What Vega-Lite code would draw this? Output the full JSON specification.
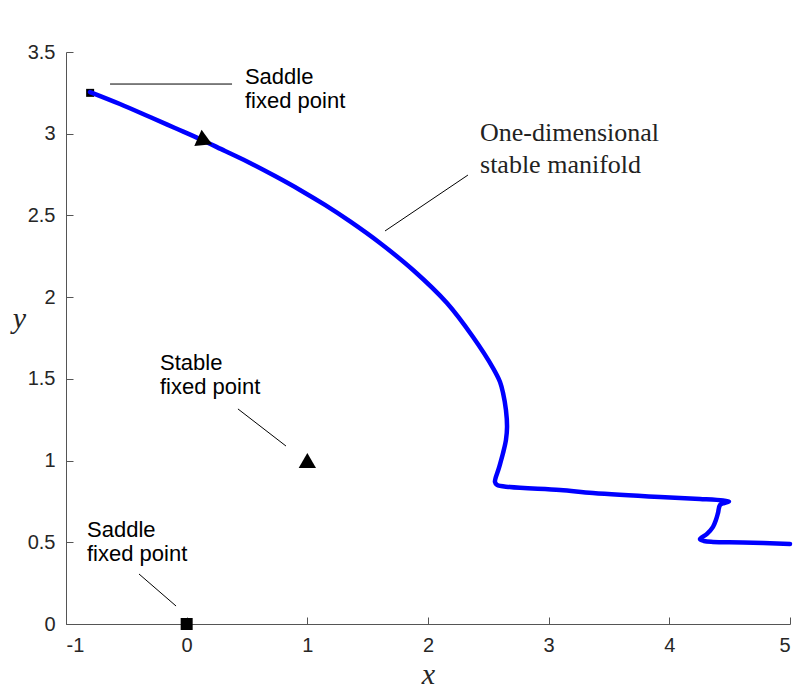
{
  "$schema": "https://vega.github.io/schema/vega-lite/v6.json",
  "width": 724,
  "height": 572,
  "autosize": {"type": "none"},
  "padding": {"left": 66, "top": 52, "right": 20, "bottom": 68},
  "background": "white",
  "config": {
    "view": {"stroke": null},
    "axis": {
      "grid": false,
      "domainColor": "#555555",
      "domainWidth": 1,
      "tickColor": "#555555",
      "tickWidth": 1,
      "tickSize": -7,
      "labelColor": "#262626",
      "labelFont": "Liberation Sans",
      "labelFontSize": 20,
      "titleFont": "Liberation Serif",
      "titleFontStyle": "italic",
      "titleFontWeight": "normal",
      "titleFontSize": 30,
      "titleColor": "#262626"
    }
  },
  "datasets": {
    "curve": [
      {"i": 1, "x": -0.801, "y": 3.255},
      {"i": 2, "x": -0.553, "y": 3.182},
      {"i": 3, "x": -0.304, "y": 3.102},
      {"i": 4, "x": -0.097, "y": 3.035},
      {"i": 5, "x": 0.110, "y": 2.968},
      {"i": 6, "x": 0.318, "y": 2.894},
      {"i": 7, "x": 0.525, "y": 2.821},
      {"i": 8, "x": 0.732, "y": 2.741},
      {"i": 9, "x": 0.939, "y": 2.656},
      {"i": 10, "x": 1.146, "y": 2.564},
      {"i": 11, "x": 1.354, "y": 2.463},
      {"i": 12, "x": 1.602, "y": 2.331},
      {"i": 13, "x": 1.876, "y": 2.166},
      {"i": 14, "x": 2.157, "y": 1.964},
      {"i": 15, "x": 2.373, "y": 1.756},
      {"i": 16, "x": 2.539, "y": 1.566},
      {"i": 17, "x": 2.597, "y": 1.481},
      {"i": 18, "x": 2.622, "y": 1.413},
      {"i": 19, "x": 2.646, "y": 1.309},
      {"i": 20, "x": 2.655, "y": 1.205},
      {"i": 21, "x": 2.646, "y": 1.126},
      {"i": 22, "x": 2.622, "y": 1.046},
      {"i": 23, "x": 2.588, "y": 0.955},
      {"i": 24, "x": 2.555, "y": 0.869},
      {"i": 25, "x": 2.572, "y": 0.851},
      {"i": 26, "x": 2.679, "y": 0.838},
      {"i": 27, "x": 3.094, "y": 0.820},
      {"i": 28, "x": 3.367, "y": 0.802},
      {"i": 29, "x": 3.923, "y": 0.777},
      {"i": 30, "x": 4.254, "y": 0.765},
      {"i": 31, "x": 4.445, "y": 0.756},
      {"i": 32, "x": 4.494, "y": 0.750},
      {"i": 33, "x": 4.453, "y": 0.740},
      {"i": 34, "x": 4.420, "y": 0.728},
      {"i": 35, "x": 4.403, "y": 0.679},
      {"i": 36, "x": 4.386, "y": 0.636},
      {"i": 37, "x": 4.362, "y": 0.594},
      {"i": 38, "x": 4.312, "y": 0.551},
      {"i": 39, "x": 4.254, "y": 0.520},
      {"i": 40, "x": 4.287, "y": 0.508},
      {"i": 41, "x": 4.362, "y": 0.502},
      {"i": 42, "x": 4.610, "y": 0.499},
      {"i": 43, "x": 5.000, "y": 0.490}
    ],
    "leaders": [
      {"x": -0.635, "y": 3.304, "x2": 0.376, "y2": 3.304},
      {"x": 1.644, "y": 2.405, "x2": 2.331, "y2": 2.747},
      {"x": 0.425, "y": 1.316, "x2": 0.823, "y2": 1.089},
      {"x": -0.395, "y": 0.306, "x2": -0.088, "y2": 0.110}
    ],
    "sansLabels": [
      {"x": 0.483, "y": 3.304, "label": "Saddle\nfixed point"},
      {"x": -0.221, "y": 1.554, "label": "Stable\nfixed point"},
      {"x": -0.826, "y": 0.532, "label": "Saddle\nfixed point"}
    ],
    "serifLabels": [
      {"x": 2.431, "y": 2.955, "label": "One-dimensional\nstable manifold"}
    ]
  },
  "encoding": {
    "x": {
      "field": "x",
      "type": "quantitative",
      "scale": {"domain": [-1, 5], "nice": false, "zero": false},
      "axis": {
        "title": "x",
        "values": [-1, 0, 1, 2, 3, 4, 5],
        "labelExpr": "'' + datum.value",
        "labelPadding": 18,
        "titleX": 362,
        "titleY": 59,
        "titleAlign": "center",
        "titleBaseline": "alphabetic"
      }
    },
    "y": {
      "field": "y",
      "type": "quantitative",
      "scale": {"domain": [0, 3.5], "nice": false, "zero": false},
      "axis": {
        "title": "y",
        "values": [0, 0.5, 1, 1.5, 2, 2.5, 3, 3.5],
        "labelExpr": "'' + datum.value",
        "labelPadding": 18,
        "titleAngle": 0,
        "titleX": -47,
        "titleY": 275,
        "titleAlign": "center",
        "titleBaseline": "alphabetic"
      }
    }
  },
  "layer": [
    {
      "data": {"name": "leaders"},
      "mark": {"type": "rule", "color": "black", "strokeWidth": 1},
      "encoding": {
        "x2": {"field": "x2"},
        "y2": {"field": "y2"}
      }
    },
    {
      "data": {"values": [{"x": -0.8, "y": 3.25}]},
      "mark": {"type": "point", "shape": "square", "filled": true, "color": "black", "size": 64, "opacity": 1}
    },
    {
      "data": {"name": "curve"},
      "mark": {"type": "line", "color": "#0000ff", "strokeWidth": 4.5, "strokeCap": "round", "strokeJoin": "round", "interpolate": "catmull-rom"},
      "encoding": {
        "order": {"field": "i", "type": "quantitative"}
      }
    },
    {
      "data": {"values": [{"x": 0.152, "y": 2.955}]},
      "mark": {"type": "point", "shape": "triangle-right", "filled": true, "color": "black", "size": 320, "angle": 24, "opacity": 1}
    },
    {
      "data": {"values": [{"x": 1, "y": 1}]},
      "mark": {"type": "point", "shape": "triangle-up", "filled": true, "color": "black", "size": 300, "opacity": 1}
    },
    {
      "data": {"values": [{"x": 0, "y": 0}]},
      "mark": {"type": "point", "shape": "square", "filled": true, "color": "black", "size": 144, "opacity": 1}
    },
    {
      "data": {"name": "sansLabels"},
      "mark": {"type": "text", "align": "left", "baseline": "alphabetic", "lineBreak": "\n", "font": "Liberation Sans", "fontSize": 22, "lineHeight": 24, "color": "black"},
      "encoding": {
        "text": {"field": "label"}
      }
    },
    {
      "data": {"name": "serifLabels"},
      "mark": {"type": "text", "align": "left", "baseline": "alphabetic", "lineBreak": "\n", "font": "Liberation Serif", "fontSize": 26, "lineHeight": 32, "color": "#222222"},
      "encoding": {
        "text": {"field": "label"}
      }
    }
  ]
}
